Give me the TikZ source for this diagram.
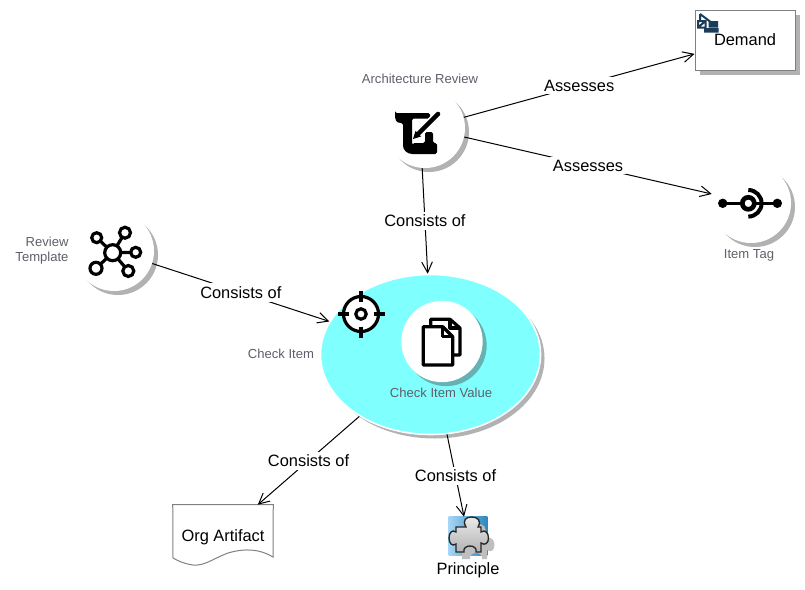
\documentclass[tikz,border=0pt]{standalone}
\usepackage{fontspec}
\setmainfont{Liberation Sans}
\usetikzlibrary{arrows.meta,shapes.geometric,shadows}
\definecolor{labelgray}{HTML}{5F5F6B}
\definecolor{cranenavy}{HTML}{1C3D5A}
\definecolor{checkcyan}{HTML}{80FFFF}
\definecolor{valueshade}{HTML}{66B2B2}
\definecolor{puzzlelight}{HTML}{A5D5F5}
\definecolor{puzzledark}{HTML}{2F86BE}
\tikzset{
  conceptball/.style = {circle, fill=white, inner sep=0pt, minimum size=60pt,
    drop shadow={shadow xshift=3pt, shadow yshift=-3pt, opacity=1, fill=black!30}},
  conceptlabel/.style = {text=labelgray, font=\fontsize{9.8}{11.5}\selectfont, align=right},
  relation/.style = {fill=white, inner sep=2.25pt, font=\fontsize{12.3}{14}\selectfont},
  blacklabel/.style = {font=\fontsize{12.3}{14}\selectfont},
  iconline/.style = {draw=black, line width=2.4pt},
  puzzlepiece/.style = {insert path={
    (456,527) -- (466,527) .. controls (462,520) and (466,517) .. (471.5,517)
    .. controls (477,517) and (482,520) .. (478,527) -- (481,527) -- (481,532)
    .. controls (485,529) and (488.5,533) .. (488.5,538) .. controls (488.5,543) and (485,546) .. (481,543)
    -- (481,552) -- (476,552) .. controls (478,544) and (462,544) .. (464,552) -- (456,552) -- (456,544)
    .. controls (452,547) and (449,543) .. (449,538) .. controls (449,533) and (452,529) .. (456,532) -- cycle}}
}
\begin{document}
\begin{tikzpicture}[x=0.75pt, y=-0.75pt, > = {Straight Barb[length=8pt, width=8pt]}]
   \useasboundingbox (0,0) rectangle (805,589);

   % concepts
   \node[conceptball] (review) at (425,128) {};
   \node[conceptball] (tag) at (751,203) {};
   \node[conceptball] (template) at (114,251) {};
   \node[ellipse, fill=checkcyan, draw=white, line width=1.2pt, inner sep=0pt,
     minimum width=165pt, minimum height=120pt,
     drop shadow={shadow xshift=3pt, shadow yshift=-3pt, opacity=1, fill=black!30}] (check) at (430.5,354.5) {};
   \node[circle, fill=white, inner sep=0pt, minimum size=61pt,
     drop shadow={shadow xshift=3pt, shadow yshift=-3pt, opacity=1, fill=valueshade}] (value) at (442,341.5) {};
   \node[rectangle, fill=white, draw=black!50, line width=0.75pt, minimum width=75pt, minimum height=45pt, inner sep=0pt,
     drop shadow={shadow xshift=3.75pt, shadow yshift=-3.75pt, opacity=1, fill=black!30}] (demand) at (745,40) {};
   \node[minimum width=75pt, minimum height=45pt, inner sep=0pt] (artifact) at (223,535) {};
   \node[minimum width=28.5pt, minimum height=28.5pt, inner sep=0pt] (principle) at (468,536) {};

   % org artifact sheet
   \draw[draw=black!50, line width=0.75pt] (artifact.north west) -- (artifact.north east) -- (273,557)
     .. controls (260,549) and (245,548) .. (228,553) .. controls (212,559) and (205,566) .. (193,565)
     .. controls (185,564) and (178,561) .. (173,558) -- cycle;

   % puzzle
   \fill[left color=puzzlelight, right color=puzzledark] (principle.north west) rectangle (principle.south east);
   \fill[black!25, shift={(6,7)}, puzzlepiece];
   \draw[draw=black!85, line width=1pt, top color=black!8, bottom color=black!30, puzzlepiece];

   % icons
   \foreach \x/\y/\r in {96.7/237.7/5, 125/232.7/5.5, 135.7/252.3/5, 128.3/271/5.5, 96/268.3/6} {
     \draw[iconline] (112.7,252.7) -- (\x,\y);
     \draw[iconline, fill=white] (\x,\y) circle[radius=\r];
   }
   \draw[iconline, fill=white] (112.7,252.7) circle[radius=8];

   \fill (722.7,203.3) circle[radius=4.7] (777.3,203.3) circle[radius=4.7];
   \draw[iconline] (722.7,203.3) -- (777.3,203.3);
   \draw[draw=black, line width=3.5pt, fill=white] (748.3,203.3) circle[radius=6];
   \draw[iconline, line width=3pt] (748.3,190) arc[start angle=-90, end angle=90, radius=13.3];

   \draw[iconline, fill=white] (361,314) circle[radius=17.5];
   \draw[iconline] (361,314) circle[radius=5.2];
   \foreach \a in {0,90,180,270}
     \draw[iconline] (361,314) ++(\a:12.5) -- ++(\a:11);

   \draw[iconline, line join=round] (430.7,326) -- (430.7,319.3) -- (450,319.3) -- (460,328) -- (460,355) -- (453,355);
   \draw[iconline, line join=round] (450,319.3) -- (450,328) -- (460,328);
   \draw[iconline, line join=round, fill=white] (423.3,326.7) -- (442.7,326.7) -- (452.7,336.7) -- (452.7,365) -- (423.3,365) -- cycle;
   \draw[iconline, line join=round] (442.7,326.7) -- (442.7,336.7) -- (452.7,336.7);

   \fill[rounded corners=1.2pt] (395,113) -- (430,113) -- (430,118.5) -- (412,118.5) -- (412,145) -- (413,143) -- (425,143) -- (425,132) -- (433,132) -- (433,143) -- (437,143) -- (437,154) -- (414,154)
     .. controls (407,154) and (403,150) .. (403,144) -- (403,123) -- (399,123) .. controls (395,121) and (395,116) .. (395,113) -- cycle;
   \draw[white, line width=5.6pt] (417,135) -- (439,113);
   \draw[black, line width=3.4pt, line cap=round] (419,133) -- (438,114);
   \fill (413,139) -- (415.5,131) -- (421,136.5) -- cycle;

   \fill[cranenavy] (704,28) rectangle (718.5,32.5) (708.5,21) rectangle (718,27.5);
   \draw[cranenavy, line width=1.5pt] (700,14) -- (712,23) (700,14) -- (700,21) (698,21) rectangle (705.5,27.5) (698,27.5) -- (705.5,21);

   % texts
   \node[conceptlabel] (reviewname) at (420,79) {Architecture Review};
   \node[conceptlabel] (tagname) at (749,255.5) {Item Tag};
   \node[conceptlabel] (templatename) at (42,250.5) {Review\\Template};
   \node[conceptlabel] (checkname) at (281,354) {Check Item};
   \node[conceptlabel] (valuename) at (441,393) {Check Item Value};
   \node[blacklabel] (demandname) at (745,40) {Demand};
   \node[blacklabel] (artifactname) at (223,537) {Org Artifact};
   \node[blacklabel] (principlename) at (468,570) {Principle};

   % relations
   \draw[->, line width=0.75pt] (review) to node[relation] {Assesses} (demand);
   \draw[->, line width=0.75pt] (review) to node[relation] {Assesses} (tag);
   \draw[->, line width=0.75pt] (review.266) to node[relation] {Consists of} (check.92);
   \draw[->, line width=0.75pt] (template) to node[relation] {Consists of} (check);
   \draw[->, line width=0.75pt] (check) to node[relation] {Consists of} (artifact);
   \draw[->, line width=0.75pt] (check) to node[relation] {Consists of} (principle);
\end{tikzpicture}
\end{document}
